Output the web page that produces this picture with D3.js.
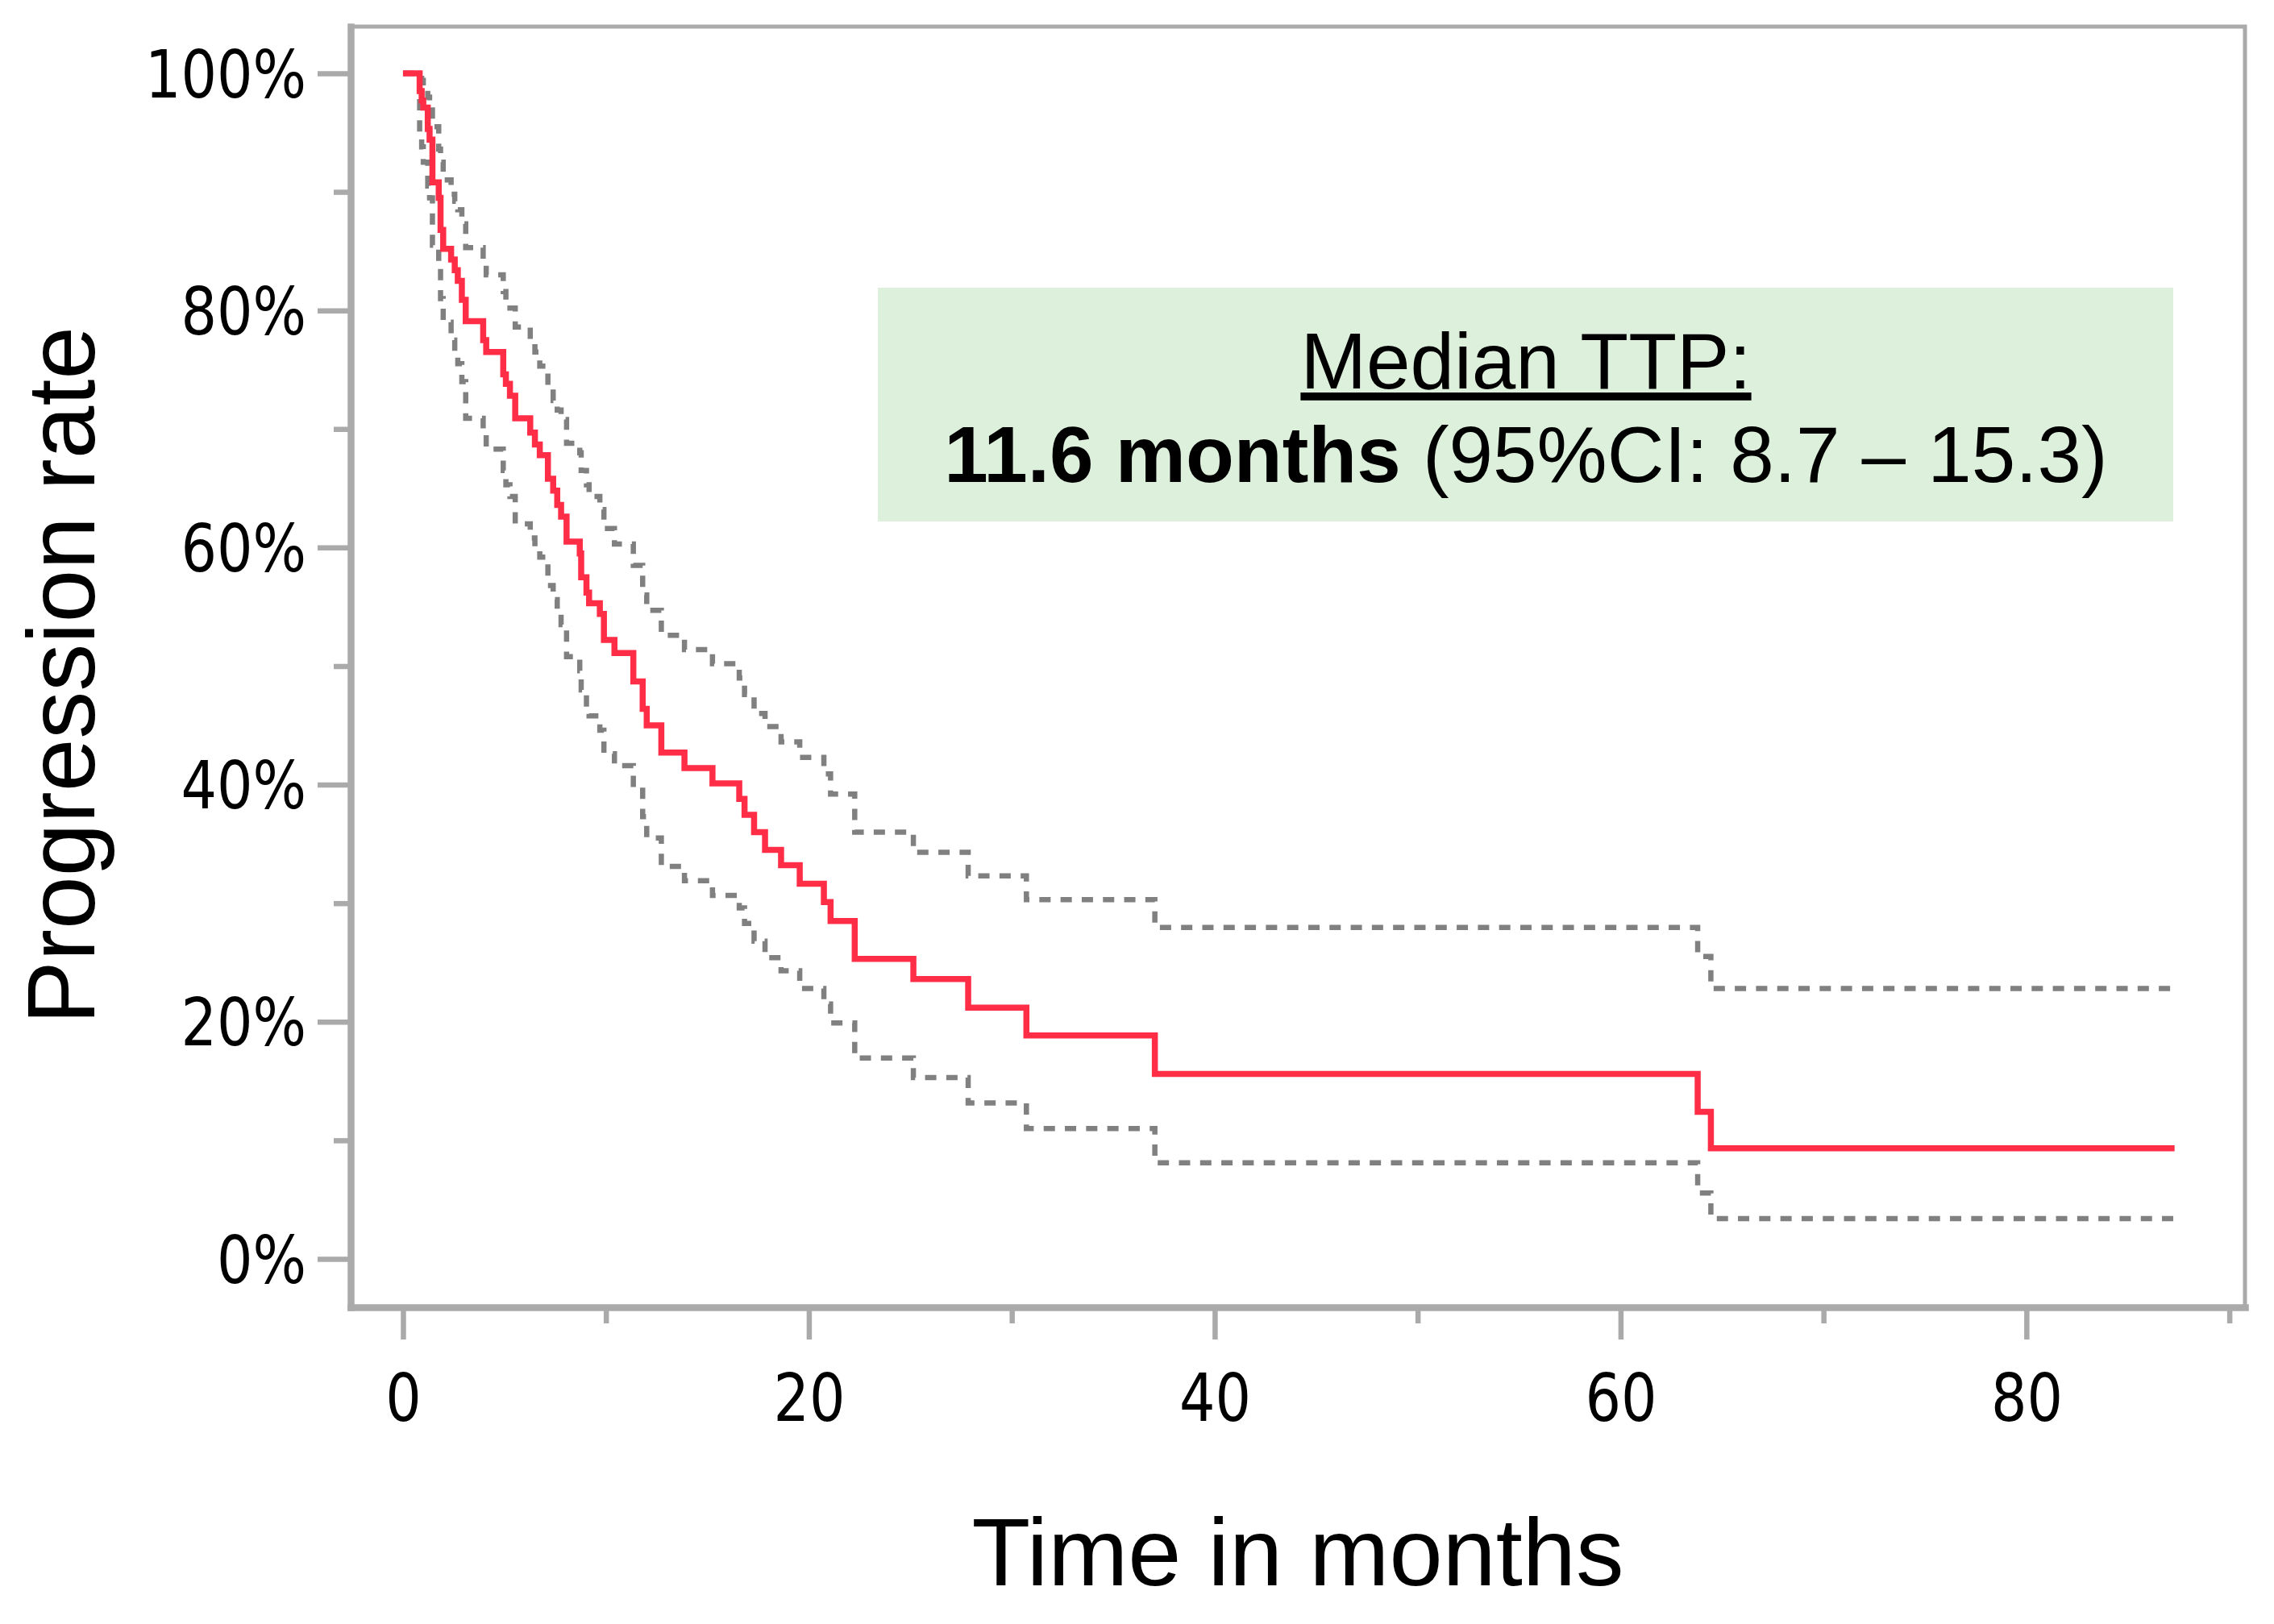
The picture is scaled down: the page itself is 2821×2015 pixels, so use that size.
<!DOCTYPE html>
<html><head><meta charset="utf-8">
<script src="https://cdn.jsdelivr.net/npm/d3@7"></script>
<style>html,body{margin:0;padding:0;background:#fff;} svg{display:block}</style>
</head><body>
<svg id="c" width="2821" height="2015"></svg>
<script>
// ---------------- DATA ----------------
const times = [0, 0.82, 0.92, 1.0, 1.22, 1.31, 1.45, 1.76, 1.85, 1.98, 2.37, 2.55, 2.7, 2.9, 3.09, 3.95, 4.1, 4.94, 5.07, 5.27, 5.53, 6.27, 6.5, 6.74, 7.14, 7.4, 7.6, 7.79, 8.06, 8.71, 8.78, 9.04, 9.17, 9.7, 9.9, 10.42, 11.35, 11.81, 12.01, 12.73, 13.87, 15.25, 16.57, 16.83, 17.3, 17.84, 18.63, 19.55, 20.74, 21.07, 22.26, 25.15, 27.85, 30.72, 37.05, 63.8, 64.45];
const km = [100, 98.5, 97.7, 97.1, 95.3, 94.4, 90.8, 89.5, 86.8, 85.2, 84.3, 83.4, 82.5, 80.9, 79.1, 77.5, 76.5, 74.6, 73.8, 72.8, 70.9, 69.7, 68.7, 67.8, 65.8, 64.8, 63.6, 62.6, 60.5, 59.5, 57.5, 56.2, 55.3, 54.4, 52.2, 51.1, 48.7, 46.4, 45.0, 42.7, 41.4, 40.1, 38.8, 37.45, 36.0, 34.5, 33.2, 31.65, 30.1, 28.5, 25.3, 23.6, 21.2, 18.85, 15.6, 12.4, 9.33];
const upper = [100, 99.8, 99.4, 98.9, 98.0, 97.5, 95.5, 93.6, 92.5, 91.0, 89.8, 89.2, 88.5, 87.3, 85.3, 84.2, 83.0, 81.6, 80.9, 80.2, 78.6, 77.5, 76.5, 75.3, 73.6, 72.4, 71.6, 70.8, 68.8, 68.0, 66.5, 65.3, 64.3, 63.2, 61.6, 60.3, 58.5, 56.0, 54.7, 52.6, 51.4, 50.2, 49.0, 47.6, 46.0, 44.9, 43.6, 42.3, 40.9, 39.2, 36.0, 34.3, 32.3, 30.3, 27.95, 25.5, 22.8];
const lower = [100, 95.0, 93.8, 92.5, 90.5, 89.5, 85.5, 83.5, 81.0, 79.0, 77.5, 76.4, 75.5, 74.0, 70.9, 69.8, 68.3, 66.5, 65.3, 64.3, 62.0, 60.8, 60.0, 59.2, 56.8, 55.6, 54.5, 53.5, 50.8, 49.6, 48.0, 46.8, 45.8, 44.6, 42.6, 41.6, 39.8, 37.3, 35.5, 33.1, 31.9, 30.65, 29.6, 28.3, 26.8, 25.4, 24.3, 22.8, 21.5, 19.9, 16.94, 15.3, 13.15, 11.0, 8.1, 5.55, 3.4];
const endTime = 87.3;

const xMajor = [0, 20, 40, 60, 80];
const xMinor = [10, 30, 50, 70, 90];
const yMajor = [0, 20, 40, 60, 80, 100];
const yMinor = [10, 30, 50, 70, 90];

const xTitle = "Time in months";
const yTitle = "Progression rate";
const boxTitle = "Median TTP:";
const boxBold = "11.6 months";
const boxRest = " (95%CI: 8.7 \u2013 15.3)";

// ---------------- LAYOUT ----------------
const L = 435, R = 2785, T = 33, B = 1622;
const axisColor = "#aaaaaa";
const svg = d3.select("#c");

const x = d3.scaleLinear().domain([-2.58, 90.77]).range([L, R]);
const y = d3.scaleLinear().domain([-4.08, 103.94]).range([B, T]);

// frame (top/right thinner)
svg.append("rect").attr("x", L).attr("y", T).attr("width", R - L).attr("height", B - T)
  .attr("fill", "none").attr("stroke", axisColor).attr("stroke-width", 5);

// annotation box
svg.append("rect").attr("x", 1089).attr("y", 357).attr("width", 1607).attr("height", 290)
  .attr("fill", "#ddf0dc");
svg.append("text").attr("x", 1893).attr("y", 482).attr("text-anchor", "middle")
  .attr("font-family", "'Liberation Sans', Arial, sans-serif").attr("font-size", 98)
  .style("text-decoration", "underline").text(boxTitle);
const t2 = svg.append("text").attr("x", 1893).attr("y", 598).attr("text-anchor", "middle")
  .attr("font-family", "'Liberation Sans', Arial, sans-serif").attr("font-size", 98);
t2.append("tspan").attr("font-weight", "bold").text(boxBold);
t2.append("tspan").text(boxRest);

// axes
const tickFont = "'DejaVu Sans Condensed', 'DejaVu Sans', sans-serif";
function styleAxis(g, keepDomain) {
  g.selectAll(".tick line").attr("stroke", axisColor).attr("stroke-width", 6.5);
  if (keepDomain) g.select(".domain").attr("stroke", axisColor).attr("stroke-width", 8.5).attr("stroke-linecap", "square");
  else g.select(".domain").remove();
}

const gxMinor = svg.append("g").attr("transform", `translate(0,${B})`)
  .call(d3.axisBottom(x).tickValues(xMinor).tickSize(20).tickSizeOuter(0).tickFormat(""));
styleAxis(gxMinor, false);
const gx = svg.append("g").attr("transform", `translate(0,${B})`)
  .call(d3.axisBottom(x).tickValues(xMajor).tickSize(40).tickSizeOuter(0));
styleAxis(gx, true);

const gyMinor = svg.append("g").attr("transform", `translate(${L},0)`)
  .call(d3.axisLeft(y).tickValues(yMinor).tickSize(21).tickSizeOuter(0).tickFormat(""));
styleAxis(gyMinor, false);
const gy = svg.append("g").attr("transform", `translate(${L},0)`)
  .call(d3.axisLeft(y).tickValues(yMajor).tickSize(41).tickSizeOuter(0).tickFormat(d => d + "%"));
styleAxis(gy, true);

// tick label fonts
[gx, gy].forEach(g => g.selectAll(".tick text")
  .attr("font-family", tickFont).attr("font-size", 81).attr("fill", "#000"));
// measure to match reference width of "100%" (~200px)
let sx = 1;
gy.selectAll(".tick text").each(function(d) {
  if (d === 100) sx = Math.min(1, 200 / this.getComputedTextLength());
});
gx.selectAll(".tick text").attr("y", null).attr("dy", null)
  .attr("transform", `translate(0,141) scale(${sx},1)`);
gy.selectAll(".tick text").attr("x", null).attr("dy", "0.36em")
  .attr("transform", `translate(-55,0) scale(${sx},1)`);

// axis titles
svg.append("text").attr("x", 1610).attr("y", 1967).attr("text-anchor", "middle")
  .attr("font-family", "'Liberation Sans', Arial, sans-serif").attr("font-size", 119).text(xTitle);
svg.append("text").attr("transform", "translate(117,838) rotate(-90)").attr("text-anchor", "middle")
  .attr("font-family", "'Liberation Sans', Arial, sans-serif").attr("font-size", 118).text(yTitle);

// curves
const line = d3.line().x(d => x(d[0])).y(d => y(d[1])).curve(d3.curveStepAfter);
function series(vals) {
  const pts = times.map((t, i) => [t, vals[i]]);
  pts.push([endTime, vals[vals.length - 1]]);
  return pts;
}
[upper, lower].forEach(s => {
  svg.append("path").attr("d", line(series(s))).attr("fill", "none")
    .attr("stroke", "#808080").attr("stroke-width", 6.5).attr("stroke-dasharray", "14 12.3");
});
svg.append("path").attr("d", line(series(km))).attr("fill", "none")
  .attr("stroke", "#ff2d46").attr("stroke-width", 7.5);
</script>
</body></html>
